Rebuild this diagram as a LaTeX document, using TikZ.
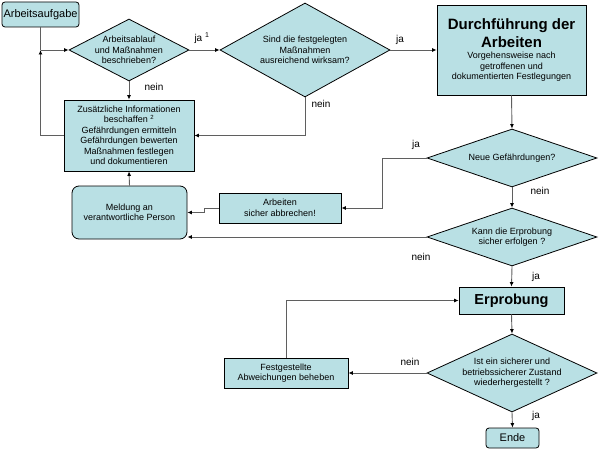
\documentclass[tikz,border=0pt]{standalone}
\usepackage{fontspec}
\setmainfont{Liberation Sans}
\usetikzlibrary{shapes.geometric,arrows.meta}
\definecolor{boxfill}{RGB}{185,224,228}
\definecolor{linec}{RGB}{95,95,95}
\begin{document}
\begin{tikzpicture}[x=1pt,y=-1pt,
  box/.style={draw=black, fill=boxfill, line width=0.8pt, inner sep=0pt, align=center, font=\fontsize{9}{10.5}\selectfont},
  dia/.style={diamond, draw=black, fill=boxfill, line width=0.8pt, inner sep=0pt, aspect=1},
  txt/.style={font=\fontsize{9}{10.5}\selectfont, align=center, inner sep=0pt},
  big/.style={font=\fontsize{15}{18}\selectfont\bfseries, align=center, inner sep=0pt},
  lbl/.style={font=\fontsize{10}{11}\selectfont, inner sep=0pt},
  conn/.style={draw=linec, line width=0.9pt, -{Latex[length=4.5pt,width=4pt,color=black]}},
  plain/.style={draw=linec, line width=0.9pt}]
\useasboundingbox (0,0) rectangle (599,449);

% nodes
\node[box, rounded corners=3pt, minimum width=77pt, minimum height=25pt, font=\fontsize{11}{12}\selectfont] (start) at (40.5,14.5) {Arbeitsaufgabe};
\node[dia, minimum width=120pt, minimum height=62pt] (d1) at (129,50) {};
\node[txt] (d1t) at (d1.center) {Arbeitsablauf\\und Maßnahmen\\beschrieben?};
\node[box, minimum width=130pt, minimum height=71pt] (b2) at (129,135.5) {Zusätzliche Informationen\\beschaffen \textsuperscript{2}\\Gefährdungen ermitteln\\Gefährdungen bewerten\\Maßnahmen festlegen\\und dokumentieren};
\node[dia, minimum width=170pt, minimum height=94pt] (d2) at (305,50) {};
\node[txt] (d2t) at (d2.center) {Sind die festgelegten\\Maßnahmen\\ausreichend wirksam?};
\node[box, minimum width=149pt, minimum height=90pt] (work) at (511.5,50) {};
\node[big] (workt1) at (511.5,33) {Durchführung der\\Arbeiten};
\node[txt] (workt2) at (511.5,67) {Vorgehensweise nach\\getroffenen und\\dokumentierten Festlegungen};
\node[dia, minimum width=170pt, minimum height=58pt] (d3) at (512,158) {};
\node[txt] (d3t) at (d3.center) {Neue Gefährdungen?};
\node[dia, minimum width=170pt, minimum height=58pt] (d4) at (512,237) {};
\node[txt] (d4t) at (d4.center) {Kann die Erprobung\\sicher erfolgen ?};
\node[box, minimum width=122pt, minimum height=30pt] (ab) at (280,208) {Arbeiten\\sicher abbrechen!};
\node[box, rounded corners=7pt, minimum width=115pt, minimum height=53pt] (mel) at (129.5,212.5) {Meldung an\\verantwortliche Person};
\node[box, minimum width=105pt, minimum height=27pt, font=\fontsize{14.5}{16}\selectfont\bfseries] (erp) at (511.5,300.5) {Erprobung};
\node[dia, minimum width=170pt, minimum height=78pt] (d5) at (512,373) {};
\node[txt] (d5t) at (d5.center) {Ist ein sicherer und\\betriebssicherer Zustand\\wiederhergestellt ?};
\node[box, minimum width=124pt, minimum height=30pt] (fest) at (286,373) {Festgestellte\\Abweichungen beheben};
\node[box, rounded corners=3pt, minimum width=53pt, minimum height=20pt, font=\fontsize{11}{12}\selectfont] (ende) at (512.5,438) {Ende};

% connectors
\coordinate (j1) at (start.south |- d1.west);
\draw[plain] (start.south) -- (j1);
\draw[conn] (j1) -- (d1.west);
\draw[conn] (b2.west) -| (j1);
\draw[conn] (d1.east) -- (d2.west);
\draw[conn] (d1.south) -- (b2.north);
\draw[conn] (d2.east) -- (work.west);
\draw[conn] (d2.south) |- (b2.east);
\draw[conn] (work.south) -- (d3.north);
\coordinate (k1) at (382,158);
\draw[conn] (d3.west) -- (k1) |- (ab.east);
\draw[conn] (d3.south) -- (d4.north);
\draw[conn] (d4.west) -- (d4.west -| mel.east);
\coordinate (k2) at (204,208);
\draw[conn] (ab.west) -- (k2) |- (mel.east);
\draw[conn] (mel.north) -- (b2.south);
\draw[conn] (d4.south) -- (erp.north);
\draw[conn] (erp.south) -- (d5.north);
\draw[conn] (d5.west) -- (fest.east);
\draw[conn] (fest.north) |- (erp.west);
\draw[conn] (d5.south) -- (ende.north);

% labels
\node[lbl] (l1) at (202,38) {ja \textsuperscript{1}};
\node[lbl] (l2) at (154,87) {nein};
\node[lbl] (l3) at (400,40) {ja};
\node[lbl] (l4) at (321,104) {nein};
\node[lbl] (l5) at (416,145) {ja};
\node[lbl] (l6) at (540,191) {nein};
\node[lbl] (l7) at (421,257) {nein};
\node[lbl] (l8) at (536,277) {ja};
\node[lbl] (l9) at (410,362) {nein};
\node[lbl] (l10) at (536,416) {ja};
\end{tikzpicture}
\end{document}
